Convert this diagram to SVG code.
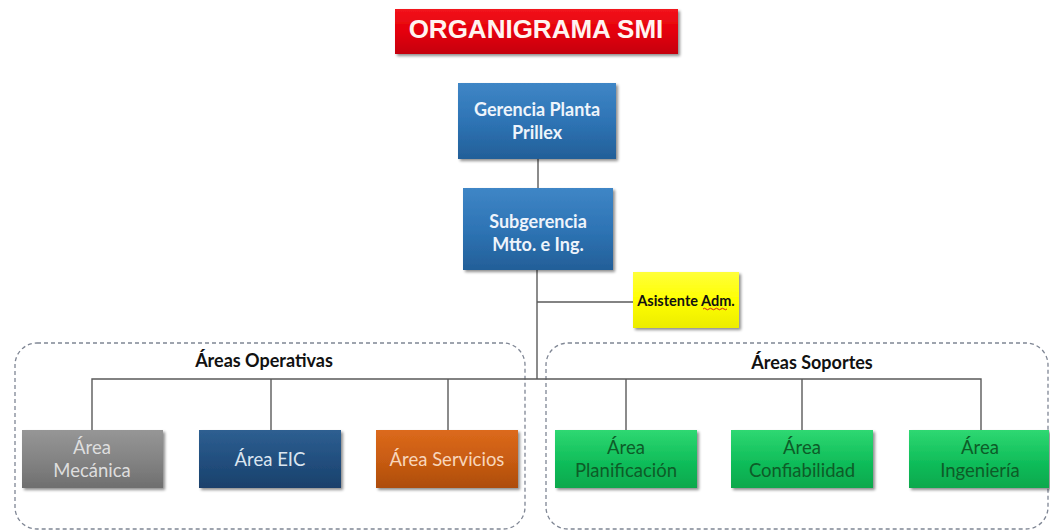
<svg xmlns="http://www.w3.org/2000/svg" width="1050" height="531" viewBox="0 0 1050 531">
  <defs>
    <style>
      .lbl { font-family: Lato, "Open Sans", sans-serif; text-anchor: middle; }
      .bold { font-weight: bold; }
      .conn { stroke: #5a5a5a; stroke-width: 1.4; fill: none; }
      .group { fill: none; stroke: #7f8694; stroke-width: 1.3; stroke-dasharray: 4 3; }
      .grp-title { font-family: Lato, "Open Sans", sans-serif; font-weight: bold; font-size: 18px; fill: #111; text-anchor: middle; }
      .top { font-size: 18px; fill: #eef4fb; }
      .area { font-size: 18.5px; }
      .green-txt { fill: #0d5c28; }
    </style>
    <linearGradient id="gRed" x1="0" y1="0" x2="0" y2="1">
      <stop offset="0" stop-color="#f2141c"/>
      <stop offset="0.5" stop-color="#e4000a"/>
      <stop offset="1" stop-color="#c50008"/>
    </linearGradient>
    <linearGradient id="gBlue" x1="0" y1="0" x2="0" y2="1">
      <stop offset="0" stop-color="#3f86c6"/>
      <stop offset="0.5" stop-color="#2e74b5"/>
      <stop offset="1" stop-color="#235f98"/>
    </linearGradient>
    <linearGradient id="gNavy" x1="0" y1="0" x2="0" y2="1">
      <stop offset="0" stop-color="#2e5f91"/>
      <stop offset="0.5" stop-color="#224f7f"/>
      <stop offset="1" stop-color="#1a416b"/>
    </linearGradient>
    <linearGradient id="gGrey" x1="0" y1="0" x2="0" y2="1">
      <stop offset="0" stop-color="#969696"/>
      <stop offset="0.5" stop-color="#848484"/>
      <stop offset="1" stop-color="#6f6f6f"/>
    </linearGradient>
    <linearGradient id="gOrange" x1="0" y1="0" x2="0" y2="1">
      <stop offset="0" stop-color="#dc6a1c"/>
      <stop offset="0.5" stop-color="#c95c12"/>
      <stop offset="1" stop-color="#ad4d0c"/>
    </linearGradient>
    <linearGradient id="gGreen" x1="0" y1="0" x2="0" y2="1">
      <stop offset="0" stop-color="#2fd872"/>
      <stop offset="0.5" stop-color="#12c05c"/>
      <stop offset="1" stop-color="#07a84c"/>
    </linearGradient>
    <linearGradient id="gYellow" x1="0" y1="0" x2="0" y2="1">
      <stop offset="0" stop-color="#ffff3a"/>
      <stop offset="0.5" stop-color="#ffff00"/>
      <stop offset="1" stop-color="#ecec00"/>
    </linearGradient>
    <filter id="shadow" x="-10%" y="-10%" width="125%" height="130%">
      <feGaussianBlur in="SourceAlpha" stdDeviation="1.6"/>
      <feOffset dx="1.5" dy="2" result="b"/>
      <feComponentTransfer><feFuncA type="linear" slope="0.45"/></feComponentTransfer>
      <feMerge><feMergeNode/><feMergeNode in="SourceGraphic"/></feMerge>
    </filter>
  </defs>

  <rect width="1050" height="531" fill="#ffffff"/>

  <!-- dashed grouping frames -->
  <g id="grupo-operativas">
    <rect class="group" x="15" y="343" width="510" height="186" rx="22"/>
    <text class="grp-title" x="264" y="367">Áreas Operativas</text>
  </g>
  <g id="grupo-soportes">
    <rect class="group" x="546" y="343" width="502" height="186" rx="22"/>
    <text class="grp-title" x="812" y="369">Áreas Soportes</text>
  </g>

  <!-- connectors -->
  <g id="connectors">
    <line class="conn" x1="538" y1="159" x2="538" y2="189"/>
    <line class="conn" x1="537" y1="270" x2="537" y2="379"/>
    <line class="conn" x1="537" y1="302" x2="633" y2="302"/>
    <polyline class="conn" points="92,430 92,379 981,379 981,430"/>
    <line class="conn" x1="271" y1="379" x2="271" y2="430"/>
    <line class="conn" x1="448" y1="379" x2="448" y2="430"/>
    <line class="conn" x1="626" y1="379" x2="626" y2="430"/>
    <line class="conn" x1="802" y1="379" x2="802" y2="430"/>
  </g>

  <!-- title -->
  <g id="titulo">
    <rect x="395" y="9" width="283" height="45" fill="url(#gRed)" filter="url(#shadow)"/>
    <text x="536" y="38" font-family="'Liberation Sans', Arial, sans-serif" font-weight="bold" font-size="26" fill="#fff4f0" text-anchor="middle">ORGANIGRAMA SMI</text>
  </g>

  <g id="gerencia">
    <rect x="458" y="83" width="158" height="76" fill="url(#gBlue)" filter="url(#shadow)"/>
    <text class="lbl bold top" x="537" y="116">Gerencia Planta</text>
    <text class="lbl bold top" x="537" y="139">Prillex</text>
  </g>

  <g id="subgerencia">
    <rect x="463" y="188" width="150" height="82" fill="url(#gBlue)" filter="url(#shadow)"/>
    <text class="lbl bold top" x="538" y="228">Subgerencia</text>
    <text class="lbl bold top" x="538" y="251">Mtto. e Ing.</text>
  </g>

  <g id="asistente">
    <rect x="633" y="272" width="106" height="56" fill="url(#gYellow)" filter="url(#shadow)"/>
    <text class="lbl bold" font-size="14.5" fill="#111" x="686" y="306">Asistente Adm.</text>
    <path d="M703 309 q1.5 -1.5 3 0 t3 0 t3 0 t3 0 t3 0 t3 0 t3 0 t3 0" stroke="#d42020" stroke-width="1" fill="none"/>
  </g>

  <g id="area-mecanica">
    <rect x="22" y="430" width="141" height="58" fill="url(#gGrey)" filter="url(#shadow)"/>
    <text class="lbl area" fill="#dedede" x="92" y="454">Área</text>
    <text class="lbl area" fill="#dedede" x="92" y="477">Mecánica</text>
  </g>

  <g id="area-eic">
    <rect x="199" y="430" width="142" height="58" fill="url(#gNavy)" filter="url(#shadow)"/>
    <text class="lbl area" fill="#dbe5f0" x="270" y="466">Área EIC</text>
  </g>

  <g id="area-servicios">
    <rect x="376" y="430" width="142" height="58" fill="url(#gOrange)" filter="url(#shadow)"/>
    <text class="lbl area" fill="#f8d6bb" x="447" y="466">Área Servicios</text>
  </g>

  <g id="area-planificacion">
    <rect x="555" y="430" width="142" height="58" fill="url(#gGreen)" filter="url(#shadow)"/>
    <text class="lbl area green-txt" x="626" y="454">Área</text>
    <text class="lbl area green-txt" x="626" y="477">Planificación</text>
  </g>

  <g id="area-confiabilidad">
    <rect x="731" y="430" width="142" height="58" fill="url(#gGreen)" filter="url(#shadow)"/>
    <text class="lbl area green-txt" x="802" y="454">Área</text>
    <text class="lbl area green-txt" x="802" y="477">Confiabilidad</text>
  </g>

  <g id="area-ingenieria">
    <rect x="909" y="430" width="140" height="58" fill="url(#gGreen)" filter="url(#shadow)"/>
    <text class="lbl area green-txt" x="980" y="454">Área</text>
    <text class="lbl area green-txt" x="980" y="477">Ingeniería</text>
  </g>
</svg>
